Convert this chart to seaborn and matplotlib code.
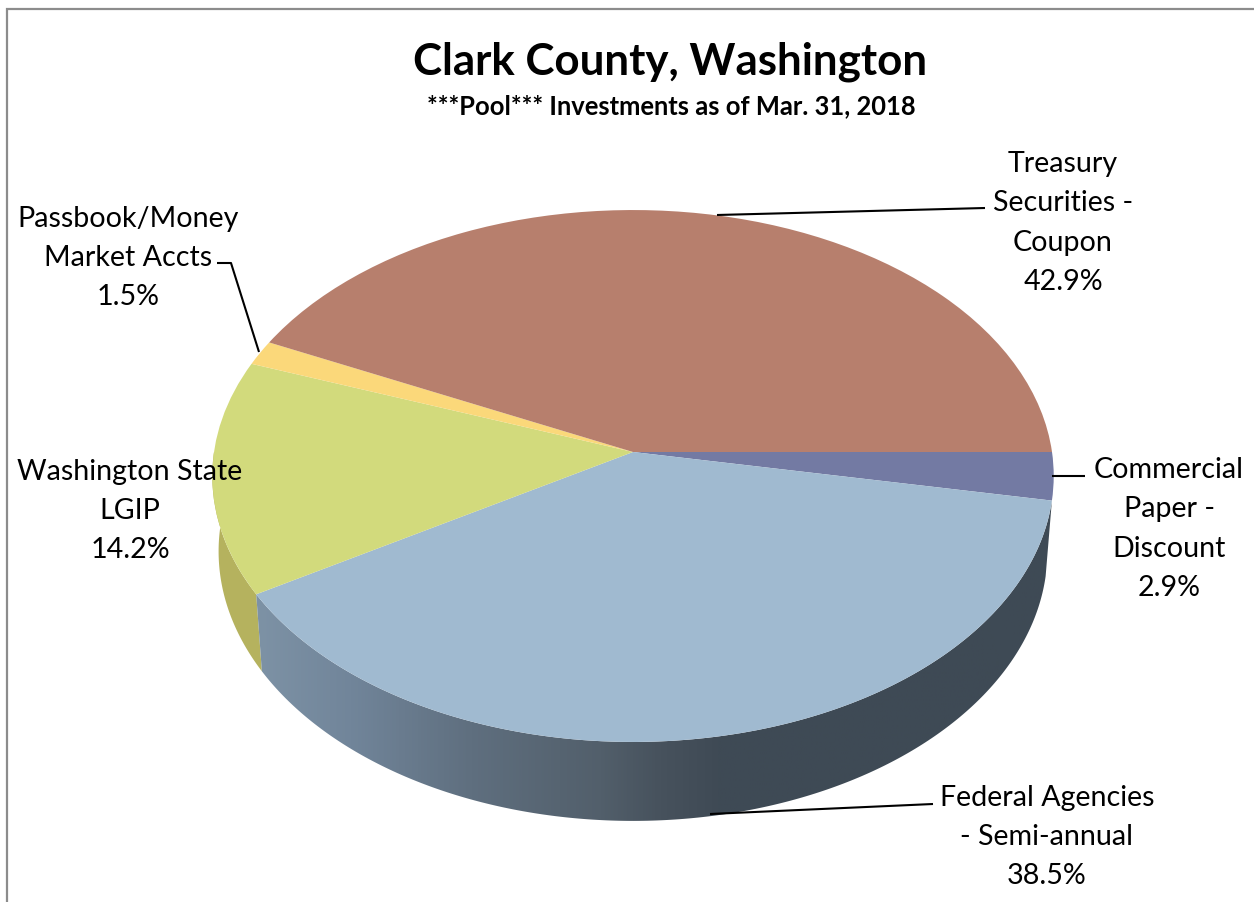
import numpy as np
import matplotlib
matplotlib.use("Agg")
import matplotlib.pyplot as plt
from matplotlib.colors import LinearSegmentedColormap, Normalize, to_rgb
from matplotlib.patches import Polygon
from matplotlib.transforms import Transform
import seaborn as sns

# Portfolio shares, in percent, clockwise from the 3 o'clock position
categories = ["Commercial\nPaper -\nDiscount", "Federal Agencies\n- Semi-annual",
              "Washington State\nLGIP", "Passbook/Money\nMarket Accts",
              "Treasury\nSecurities -\nCoupon"]
shares = [2.9, 38.5, 14.2, 1.5, 42.9]
face_colors = ["#737aa3", "#a0bad0", "#d2da7c", "#fbd87a", "#b77f6d"]

title = "Clark County, Washington"
subtitle = "***Pool*** Investments as of Mar. 31, 2018"

sns.set_theme(style="white")
plt.rcParams["font.family"] = ["Lato", "DejaVu Sans"]

WIDTH, HEIGHT = 1254, 903
CX, CY = 633.0, 453.0
RX, RY, TILT = 419.0, 263.8, 0.0902


class TiltedDisk(Transform):
    """Projects the unit disk onto the page as a disk leaning away from the viewer."""
    input_dims = 2
    output_dims = 2
    has_inverse = False

    def transform_non_affine(self, values):
        xy = np.asarray(values, dtype=float)
        depth = 1 + TILT * xy[:, 1]
        return np.column_stack((CX + RX * xy[:, 0] / depth, CY - RY * xy[:, 1] / depth))


def rim(theta_deg):
    t = np.radians(theta_deg)
    return TiltedDisk().transform_non_affine(np.column_stack((np.cos(t), np.sin(t))))


def lower_rim(points):
    # Underside of the disk: slightly narrower, shifted down by the wall height
    return np.column_stack((CX + (points[:, 0] - CX) * 0.985,
                            CY + (points[:, 1] - CY) * 1.0136 + 75))


fig = plt.figure(figsize=(WIDTH / 100, HEIGHT / 100), dpi=100, facecolor="white")
ax = fig.add_axes([0, 0, 1, 1])

palette = sns.color_palette(face_colors)
wedges, _ = ax.pie(shares, colors=palette, startangle=0, counterclock=False,
                   wedgeprops={"linewidth": 0})
disk = TiltedDisk() + ax.transData
for w in wedges:
    w.set_transform(disk)
    w.set_zorder(3)


def wall_outline(theta_from, theta_to):
    top = rim(np.linspace(theta_from, theta_to, 240))
    return np.vstack((top, lower_rim(top)[::-1]))


# Side wall of the federal slice, shaded from light on the left to dark on the right
federal, washington = wedges[1], wedges[2]
RAMP_LEFT, RAMP_RIGHT = 250, 1060
shade = LinearSegmentedColormap.from_list(
    "wall",
    [((x - RAMP_LEFT) / (RAMP_RIGHT - RAMP_LEFT), to_rgb(c)) for x, c in
     [(250, "#7e93a6"), (350, "#71859a"), (470, "#5f6f7f"), (600, "#525f6b"),
      (660, "#47525d"), (720, "#3f4a55"), (1060, "#3e4a55")]])
outline = wall_outline(federal.theta2, federal.theta1)
ramp = ax.imshow(np.linspace(0, 1, 800)[None, :], cmap=shade, norm=Normalize(0, 1),
                 extent=(RAMP_LEFT, RAMP_RIGHT, 830, 500), aspect="auto", zorder=2,
                 interpolation="bilinear")
ramp.set_clip_path(Polygon(outline, closed=True, transform=ax.transData))

ax.add_patch(Polygon(wall_outline(washington.theta2, -180), closed=True,
                     facecolor="#b5b25e", edgecolor="none", zorder=1.9))

ax.set_aspect("auto")
ax.set_xlim(0, WIDTH)
ax.set_ylim(HEIGHT, 0)
ax.axis("off")

# Labels: centre of each text block on the page, text built from the data
label_xy = [(1169, 529), (1047, 837), (130, 511), (128, 258), (1063, 223)]
for name, share, (x, y) in zip(categories, shares, label_xy):
    ax.text(x, y, f"{name}\n{share:.1f}%", ha="center", va="center", fontsize=20.6,
            color="black", linespacing=1.62, zorder=5)

leaders = [([1052, 1085], [477, 477]),
           ([710, 933], [815, 805]),
           ([259, 231, 217], [353, 264, 264]),
           ([717, 985], [216, 209])]
for xs, ys in leaders:
    ax.plot(xs, ys, color="black", lw=1.5, solid_capstyle="butt", zorder=4)

ax.text(670.5, 62, title, ha="center", va="center", fontsize=31.6,
        fontweight="bold", color="black", zorder=5)
ax.text(671, 106, subtitle, ha="center", va="center", fontsize=18.4,
        fontweight="bold", color="black", zorder=5)

# Chart-area border along the top and left edges
ax.plot([7, 7, WIDTH], [HEIGHT, 9.5, 9.5], color="#8c8c8c", lw=1.6,
        solid_joinstyle="miter", zorder=1)

fig.savefig("out.png", dpi=100, facecolor="white")
